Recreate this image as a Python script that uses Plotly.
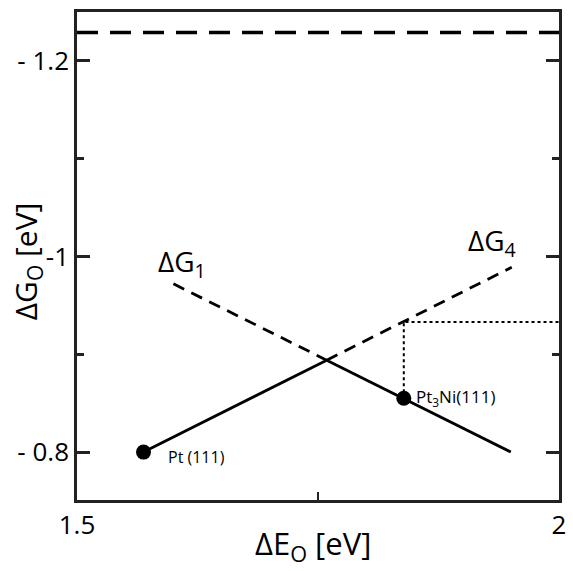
import plotly.graph_objects as go

# Data
dg4_x = [1.569, 1.759, 1.951]
dg4_y = [0.800, 0.894, 0.989]
dg1_x = [1.600, 1.759, 1.950]
dg1_y = [0.972, 0.894, 0.800]
eq_potential = 1.229
pt_x, pt_y = 1.569, 0.800
pt3ni_x, pt3ni_y = 1.839, 0.855
pt3ni_dg4 = 0.933
x_range = [1.5, 2.0]
y_range = [0.751, 1.25]
y_tickvals = [0.8, 1.0, 1.2]
y_ticktext = ["- 0.8", "-1", "- 1.2"]
x_tickvals = [1.5, 1.75, 2.0]
x_ticktext = ["1.5", "", "2"]

FONT = "Open Sans"
AX = "#222"
fig = go.Figure()

# equilibrium potential line
fig.add_trace(go.Scatter(x=x_range, y=[eq_potential, eq_potential], mode="lines",
                         line=dict(color="black", width=3.5, dash="21px,12px")))
# dG4: solid then dashed
fig.add_trace(go.Scatter(x=dg4_x[:2], y=dg4_y[:2], mode="lines",
                         line=dict(color="black", width=2.8)))
fig.add_trace(go.Scatter(x=dg4_x[1:], y=dg4_y[1:], mode="lines",
                         line=dict(color="black", width=2.8, dash="12px,8px")))
# dG1: dashed then solid
fig.add_trace(go.Scatter(x=dg1_x[:2], y=dg1_y[:2], mode="lines",
                         line=dict(color="black", width=2.8, dash="12px,8px")))
fig.add_trace(go.Scatter(x=dg1_x[1:], y=dg1_y[1:], mode="lines",
                         line=dict(color="black", width=2.8)))
# dotted guides
fig.add_trace(go.Scatter(x=[pt3ni_x, pt3ni_x, x_range[1]], y=[pt3ni_y, pt3ni_dg4, pt3ni_dg4],
                         mode="lines", line=dict(color="black", width=2, dash="dot")))
# points
fig.add_trace(go.Scatter(x=[pt_x, pt3ni_x], y=[pt_y, pt3ni_y], mode="markers",
                         marker=dict(color="black", size=15)))

ann = []
ann.append(dict(x=pt_x, y=pt_y, text="Pt (111)", showarrow=False, xanchor="left",
                yanchor="middle", xshift=22, yshift=-5, font=dict(size=16)))
ann.append(dict(x=pt3ni_x, y=pt3ni_y, text="Pt<sub>3</sub>Ni(111)", showarrow=False,
                xanchor="left", yanchor="middle", xshift=10, yshift=1, font=dict(size=17)))
ann.append(dict(x=1.600, y=0.972, text="ΔG<sub>1</sub>", showarrow=False,
                xanchor="center", yanchor="bottom", xshift=9, yshift=-2, font=dict(size=28)))
ann.append(dict(x=1.951, y=0.989, text="ΔG<sub>4</sub>", showarrow=False,
                xanchor="center", yanchor="bottom", xshift=-20, yshift=2, font=dict(size=28)))
# axis titles
ann.append(dict(xref="paper", yref="paper", x=0.489, y=-0.092, text="ΔE<sub>O</sub> [eV]",
                showarrow=False, xanchor="center", yanchor="middle", font=dict(size=31)))
ann.append(dict(xref="paper", yref="paper", x=-0.105, y=0.49, text="ΔG<sub>O</sub> [eV]",
                showarrow=False, xanchor="center", yanchor="middle", textangle=-90,
                font=dict(size=30)))

fig.update_layout(
    annotations=ann,
    width=573, height=571,
    margin=dict(l=77, r=7, t=12, b=71),
    paper_bgcolor="white", plot_bgcolor="white",
    showlegend=False,
    font=dict(family=FONT, color="black", size=20),
    xaxis=dict(range=x_range, tickvals=x_tickvals, ticktext=x_ticktext,
               ticks="inside", ticklen=8, tickwidth=2, tickcolor=AX,
               showline=True, linecolor=AX, linewidth=2.5, mirror=True,
               showgrid=False, zeroline=False, tickfont=dict(size=26)),
    yaxis=dict(range=y_range, tickvals=y_tickvals, ticktext=y_ticktext,
               ticks="inside", ticklen=13, tickwidth=2.5, tickcolor=AX,
               minor=dict(tickvals=[0.9, 1.1], ticks="inside", ticklen=7, tickwidth=2.5, tickcolor=AX),
               showline=True, linecolor=AX, linewidth=2.5, mirror="ticks",
               showgrid=False, zeroline=False, tickfont=dict(size=26)),
)

fig.write_html("out.html")
